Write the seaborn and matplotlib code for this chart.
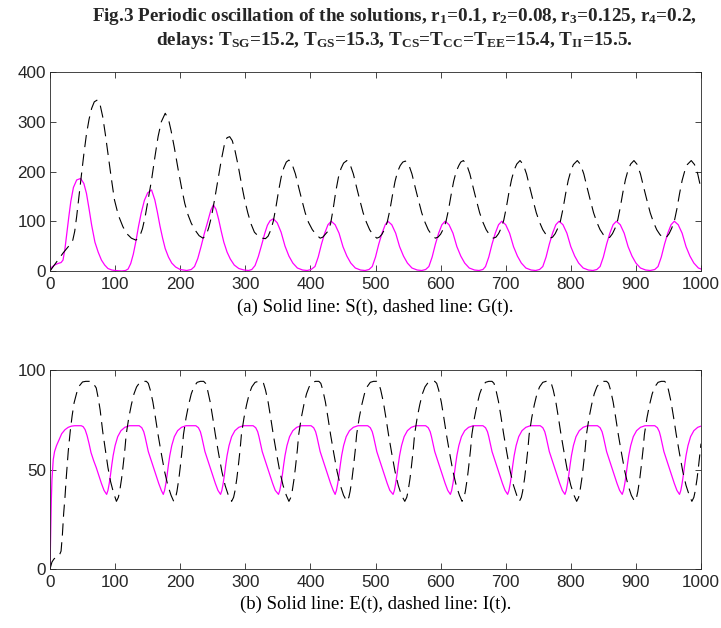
#python 3 script to redraw Fig.3: periodic oscillation of S, G (top) and E, I (bottom)
import numpy as np
import pandas as pd
import seaborn as sns
import matplotlib.pyplot as plt

#values, time and value arrays for each curve
s_t = [0, 3, 7, 12, 17, 20, 23, 26, 29, 32, 36, 41, 47,
       52, 56, 60, 64, 69, 74, 79, 84, 89, 95, 100, 110,
       116, 120, 124, 128, 132, 136, 140, 145, 150, 156,
       161, 165, 169, 173, 177, 182, 187, 193, 200, 210,
       217, 222, 227, 232, 237, 242, 247, 251,
       255, 259, 263, 267, 272, 277, 283, 290, 298, 305,
       310, 315, 320, 325, 330, 334, 338, 343,
       349, 355, 361, 367, 373, 380, 388, 395,
       401, 407, 412, 417, 422, 427, 432,
       438, 444, 450, 456, 462, 469, 477, 484,
       490, 495, 500, 505, 510, 515, 519,
       525, 531, 537, 543, 549, 556, 564, 571,
       577, 582, 587, 592, 597, 602, 607,
       613, 619, 625, 631, 637, 644, 652, 659,
       665, 669, 674, 679, 684, 689, 694,
       700, 706, 712, 718, 724, 731, 739, 746,
       752, 757, 762, 767, 772, 777, 782,
       788, 794, 800, 806, 812, 819, 827, 834,
       840, 845, 850, 855, 860, 865, 870,
       876, 882, 888, 894, 900, 907, 915, 922,
       929, 934, 939, 944, 949, 954, 959,
       965, 971, 977, 983, 989, 996, 1000]
s_v = [0, 8, 12, 15, 17, 22, 45, 78, 110, 140, 168, 183, 186,
       176, 156, 125, 92, 58, 38, 22, 12, 5, 2, 1, 0,
       1, 4, 15, 34, 60, 90, 116, 142, 157, 163,
       143, 118, 90, 66, 45, 28, 16, 8, 3, 1,
       3, 9, 25, 49, 75, 98, 122, 133,
       124, 104, 80, 58, 38, 24, 12, 5, 2, 1,
       3, 11, 29, 52, 76, 92, 101, 105,
       97, 78, 50, 30, 16, 6, 2, 1,
       3, 9, 28, 54, 76, 93, 100,
       93, 76, 49, 30, 16, 6, 2, 1,
       3, 9, 28, 54, 76, 93, 100,
       93, 76, 49, 30, 16, 6, 2, 1,
       3, 9, 28, 54, 76, 93, 100,
       93, 76, 49, 30, 16, 6, 2, 1,
       3, 9, 28, 54, 76, 93, 100,
       93, 76, 49, 30, 16, 6, 2, 1,
       3, 9, 28, 54, 76, 93, 100,
       93, 76, 49, 30, 16, 6, 2, 1,
       3, 9, 28, 54, 76, 93, 100,
       93, 76, 49, 30, 16, 6, 2, 1,
       3, 9, 28, 54, 76, 93, 100,
       93, 76, 49, 30, 16, 6, 4]

g_t = [0, 10, 20, 30, 35, 38, 41, 44, 48, 52, 56, 60, 64, 68, 73,
       77, 81, 85, 89, 94, 99, 105, 112, 118, 125, 132,
       138, 142, 146, 151, 156, 161, 166, 171, 177,
       182, 186, 191, 197, 202, 207, 212, 217, 223, 229, 235,
       240, 244, 248, 253, 258, 263, 268, 272, 276,
       280, 284, 289, 294, 299, 304, 309, 314, 320, 326, 331,
       335, 339, 343, 347, 351, 355, 359, 363, 367,
       372, 377, 382, 387, 392, 397, 403, 409, 415,
       419, 423, 427, 431, 435, 439, 443, 447, 451, 456,
       461, 466, 471, 476, 481, 486, 491, 496, 502,
       506, 510, 514, 518, 522, 526, 530, 534, 538, 542, 546,
       551, 556, 561, 566, 571, 576, 581, 586, 592,
       596, 600, 604, 608, 612, 616, 620, 624, 628, 631, 635,
       640, 645, 650, 655, 660, 665, 670, 675, 681,
       685, 689, 693, 697, 701, 705, 709, 713, 717, 722,
       727, 732, 737, 742, 747, 752, 757, 762, 768,
       772, 776, 780, 784, 788, 792, 796, 800, 804, 810,
       815, 820, 825, 830, 835, 840, 845, 850, 856,
       860, 864, 868, 872, 876, 880, 884, 888, 892, 897,
       902, 907, 912, 917, 922, 927, 932, 937, 943,
       947, 951, 955, 959, 963, 967, 971, 975, 979, 985,
       990, 995, 1000]
g_v = [0, 18, 36, 52, 62, 80, 110, 145, 190, 235, 275, 305, 327, 340, 344,
       334, 310, 275, 236, 188, 143, 112, 89, 75, 66, 62,
       70, 85, 108, 145, 183, 228, 270, 300, 317,
       305, 282, 248, 203, 168, 136, 113, 96, 82, 71, 66,
       72, 88, 109, 145, 183, 222, 255, 268, 270,
       262, 243, 212, 176, 143, 116, 94, 78, 70, 66, 65,
       70, 82, 100, 128, 160, 188, 207, 219, 223,
       214, 195, 168, 142, 117, 98, 83, 73, 66,
       68, 74, 80, 95, 125, 160, 188, 206, 217, 222,
       214, 195, 168, 142, 117, 98, 83, 73, 66,
       68, 74, 84, 98, 122, 152, 180, 200, 212, 219, 221,
       214, 195, 168, 142, 117, 98, 83, 73, 66,
       68, 74, 84, 98, 122, 152, 180, 200, 212, 219, 222,
       214, 195, 168, 142, 117, 98, 83, 73, 66,
       68, 75, 86, 102, 128, 158, 184, 203, 215, 222,
       214, 195, 168, 142, 117, 98, 83, 73, 66,
       68, 75, 86, 100, 125, 155, 182, 201, 214, 222,
       214, 195, 168, 142, 117, 98, 83, 73, 66,
       68, 75, 86, 102, 128, 158, 184, 203, 215, 222,
       214, 195, 168, 142, 117, 98, 83, 73, 66,
       68, 75, 86, 100, 125, 155, 182, 201, 214, 222,
       214, 195, 165]

e_t = [0, 1, 2, 3, 5, 7, 10, 14, 18, 23, 28, 33, 38, 48,
       51, 54, 57, 60, 63, 67, 71, 75, 79, 83, 87,
       89, 91, 93, 95, 97, 100, 104, 109, 115, 122, 137, 141, 144, 146, 149, 151, 155, 161, 167, 171, 174,
       176, 178, 180, 182, 184, 187, 191, 196, 202, 209, 224, 228, 231, 233, 236, 238, 242, 248, 254, 258, 262,
       264, 266, 268, 270, 272, 275, 279, 284, 290, 297, 312, 316, 319, 321, 324, 326, 330, 336, 342, 346, 351,
       353, 355, 357, 359, 361, 364, 368, 373, 379, 386, 401, 405, 408, 410, 413, 415, 419, 425, 431, 435, 438,
       440, 442, 444, 446, 448, 451, 455, 460, 466, 473, 488, 492, 495, 497, 500, 502, 506, 512, 518, 522, 527,
       529, 531, 533, 535, 537, 540, 544, 549, 555, 562, 577, 581, 584, 586, 589, 591, 595, 601, 607, 611, 615,
       617, 619, 621, 623, 625, 628, 632, 637, 643, 650, 665, 669, 672, 674, 677, 679, 683, 689, 695, 699, 703,
       705, 707, 709, 711, 713, 716, 720, 725, 731, 738, 753, 757, 760, 762, 765, 767, 771, 777, 783, 787, 791,
       793, 795, 797, 799, 801, 804, 808, 813, 819, 826, 841, 845, 848, 850, 853, 855, 859, 865, 871, 875, 879,
       881, 883, 885, 887, 889, 892, 896, 901, 907, 914, 929, 933, 936, 938, 941, 943, 947, 953, 959, 963, 967,
       969, 971, 973, 975, 977, 980, 984, 989, 995, 1000]
e_cycle = [39.5, 43, 47.5, 52.5, 57, 62, 66.5, 69.5, 71.2, 72, 72, 71, 69, 66.5, 62, 59, 55, 49, 43, 39.5, 37.5]
e_v = ([0, 18, 34, 45, 55, 59, 62, 65, 68, 70, 71.2, 71.8, 72, 72,
        71.5, 70, 67, 63, 58.5, 54.5, 51, 47, 43, 39.5, 37.5]
       + e_cycle * 10
       + [39.5, 43, 47.5, 52.5, 57, 62, 66.5, 69.5, 71.2, 71.8])

i_t = [0, 3, 6, 10, 14, 17, 19, 21, 23, 25, 28, 31, 34, 37, 41, 45, 50, 55, 63, 67,
       71, 74, 77, 81, 85, 89, 93, 97, 102,
       105, 107, 110, 112, 115, 117, 121, 125, 129, 133, 138, 143, 148, 151, 154, 158, 162, 166, 171, 176, 181, 186, 190,
       193, 195, 198, 200, 203, 205, 209, 213, 217, 221, 226, 231, 236, 239, 242, 246, 250, 254, 259, 264, 269, 274, 279,
       282, 284, 287, 289, 292, 294, 298, 302, 306, 310, 315, 320, 325, 328, 331, 335, 339, 343, 348, 353, 358, 363, 367,
       370, 372, 375, 377, 380, 382, 386, 390, 394, 398, 403, 408, 413, 416, 419, 423, 427, 431, 436, 441, 446, 451, 456,
       459, 461, 464, 466, 469, 471, 475, 479, 483, 487, 492, 497, 502, 505, 508, 512, 516, 520, 525, 530, 535, 540, 545,
       548, 550, 553, 555, 558, 560, 564, 568, 572, 576, 581, 586, 591, 594, 597, 601, 605, 609, 614, 619, 624, 629, 633,
       636, 638, 641, 643, 646, 648, 652, 656, 660, 664, 669, 674, 679, 682, 685, 689, 693, 697, 702, 707, 712, 717, 721,
       724, 726, 729, 731, 734, 736, 740, 744, 748, 752, 757, 762, 767, 770, 773, 777, 781, 785, 790, 795, 800, 805, 809,
       812, 814, 817, 819, 822, 824, 828, 832, 836, 840, 845, 850, 855, 858, 861, 865, 869, 873, 878, 883, 888, 893, 898,
       901, 903, 906, 908, 911, 913, 917, 921, 925, 929, 934, 939, 944, 947, 950, 954, 958, 962, 967, 972, 977, 982, 986,
       989, 991, 994, 996, 999, 1000]
i_cycle = [36, 39, 45.5, 51, 60, 67.5, 76, 82.6, 88, 91.5, 93.8, 94.3, 94.3, 93.3, 90, 84, 76, 67.5, 58, 49, 42, 37, 34]
i_v = ([0, 3.5, 5, 6.2, 6.6, 9, 17, 28, 36, 46, 59, 69, 77, 83.5, 88.5, 92, 94, 94.3, 94.3, 93,
        91, 86, 80, 69, 60, 51, 44, 39, 34]
       + i_cycle * 10
       + [36, 39, 45.5, 51, 60, 63])

captions = ["(a) Solid line: S(t), dashed line: G(t).",
            "(b) Solid line: E(t), dashed line: I(t)."]
title_lines = [r"Fig.3 Periodic oscillation of the solutions, r$_1$=0.1, r$_2$=0.08, r$_3$=0.125, r$_4$=0.2,",
               r"delays: T$_{SG}$=15.2, T$_{GS}$=15.3, T$_{CS}$=T$_{CC}$=T$_{EE}$=15.4, T$_{II}$=15.5."]

sns.set_style("ticks")
plt.rcParams['font.family'] = ['Liberation Sans', 'DejaVu Sans']
plt.rcParams['mathtext.fontset'] = 'custom'
plt.rcParams['mathtext.rm'] = 'Liberation Serif:bold'
plt.rcParams['mathtext.it'] = 'Liberation Serif:bold'
plt.rcParams['mathtext.bf'] = 'Liberation Serif:bold'

fig = plt.figure(figsize=(7.21, 6.28), dpi=100)
ax1 = fig.add_axes([50/721, 1-271/628, 651/721, 199/628])
ax2 = fig.add_axes([50/721, 1-569/628, 651/721, 199/628])

axis_color = "#262626"
dash = (11, 6)

panels = [
    (ax1, s_t, s_v, g_t, g_v, 400, np.arange(0, 401, 100)),
    (ax2, e_t, e_v, i_t, i_v, 100, [0, 50, 100]),
]
for ax, t1, v1, t2, v2, ymax, yticks in panels:
    solid = pd.DataFrame({"t": t1, "v": v1})
    dashed = pd.DataFrame({"t": t2, "v": v2})
    sns.lineplot(data=solid, x="t", y="v", ax=ax, color="#ff00ff", lw=0.9, estimator=None, sort=False)
    sns.lineplot(data=dashed, x="t", y="v", ax=ax, color="black", lw=0.8, estimator=None, sort=False,
                 dashes=False, linestyle=(0, dash))
    ax.set_xlim(0, 1000)
    ax.set_ylim(0, ymax)
    ax.set_xticks(np.arange(0, 1001, 100))
    ax.set_yticks(yticks)
    ax.set_xlabel("")
    ax.set_ylabel("")
    ax.tick_params(direction="in", top=True, right=True, length=4, width=0.6,
                   labelsize=12.3, colors=axis_color, pad=3)
    ax.tick_params(axis="x", pad=4)
    for sp in ax.spines.values():
        sp.set_visible(True)
        sp.set_color(axis_color)
        sp.set_linewidth(0.6)

fig.text(375.5/721, 1-307/628, captions[0], ha="center", va="center", fontsize=13.5,
         family="Liberation Serif", color="black")
fig.text(375.5/721, 1-604/628, captions[1], ha="center", va="center", fontsize=13.5,
         family="Liberation Serif", color="black")
fig.text(394/721, 1-16.5/628, title_lines[0], ha="center", va="center", fontsize=13.8,
         family="Liberation Serif", weight="bold")
fig.text(394/721, 1-40.5/628, title_lines[1], ha="center", va="center", fontsize=13.8,
         family="Liberation Serif", weight="bold")

plt.savefig("out.png", dpi=100)
